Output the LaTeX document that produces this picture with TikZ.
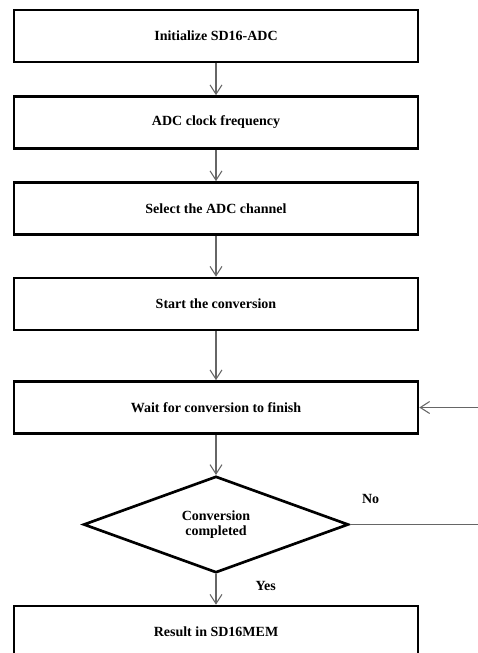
\documentclass[tikz,border=0pt]{standalone}
\usepackage{fontspec}
\setmainfont{Liberation Serif}
\usepackage{tikz}
\usetikzlibrary{shapes.geometric, arrows.meta}

\begin{document}
\begin{tikzpicture}[
    x=0.75pt, y=-0.75pt,
    every node/.style={font=\fontsize{10.5}{11.5}\selectfont\bfseries, text=black},
    stepbox/.style={rectangle, draw, line width=2pt, minimum width=303pt, minimum height=39pt, align=center, fill=white},
    decision/.style={diamond, draw, line width=2pt, minimum width=198.75pt, minimum height=71.25pt, inner sep=0pt, align=center, fill=white},
    arrow/.style={-{Straight Barb[length=7pt, width=9pt]}, line width=0.8pt, black!60}
]
\useasboundingbox (0,0) rectangle (478,653);

\node[stepbox] (init) at (216,36) {Initialize SD16-ADC};
\node[stepbox] (clk) at (216,122.5) {ADC clock frequency};
\node[stepbox] (chan) at (216,208.5) {Select the ADC channel};
\node[stepbox] (start) at (216,304) {Start the conversion};
\node[stepbox] (wait) at (216,407.5) {Wait for conversion to finish};
\node[decision] (done) at (216,524.5) {Conversion\\completed};
\node[stepbox] (res) at (216,632) {Result in SD16MEM};

\draw[arrow] (init) -- (clk);
\draw[arrow] (clk) -- (chan);
\draw[arrow] (chan) -- (start);
\draw[arrow] (start) -- (wait);
\draw[arrow] (wait) -- (done);
\draw[arrow] (done) -- node[right=26pt, pos=0.4] (yes) {Yes} (res);
\draw[arrow] (done.east) -- node[pos=0.13, above=12pt] (no) {No} ++(160,0) |- (wait.east);

\end{tikzpicture}
\end{document}
